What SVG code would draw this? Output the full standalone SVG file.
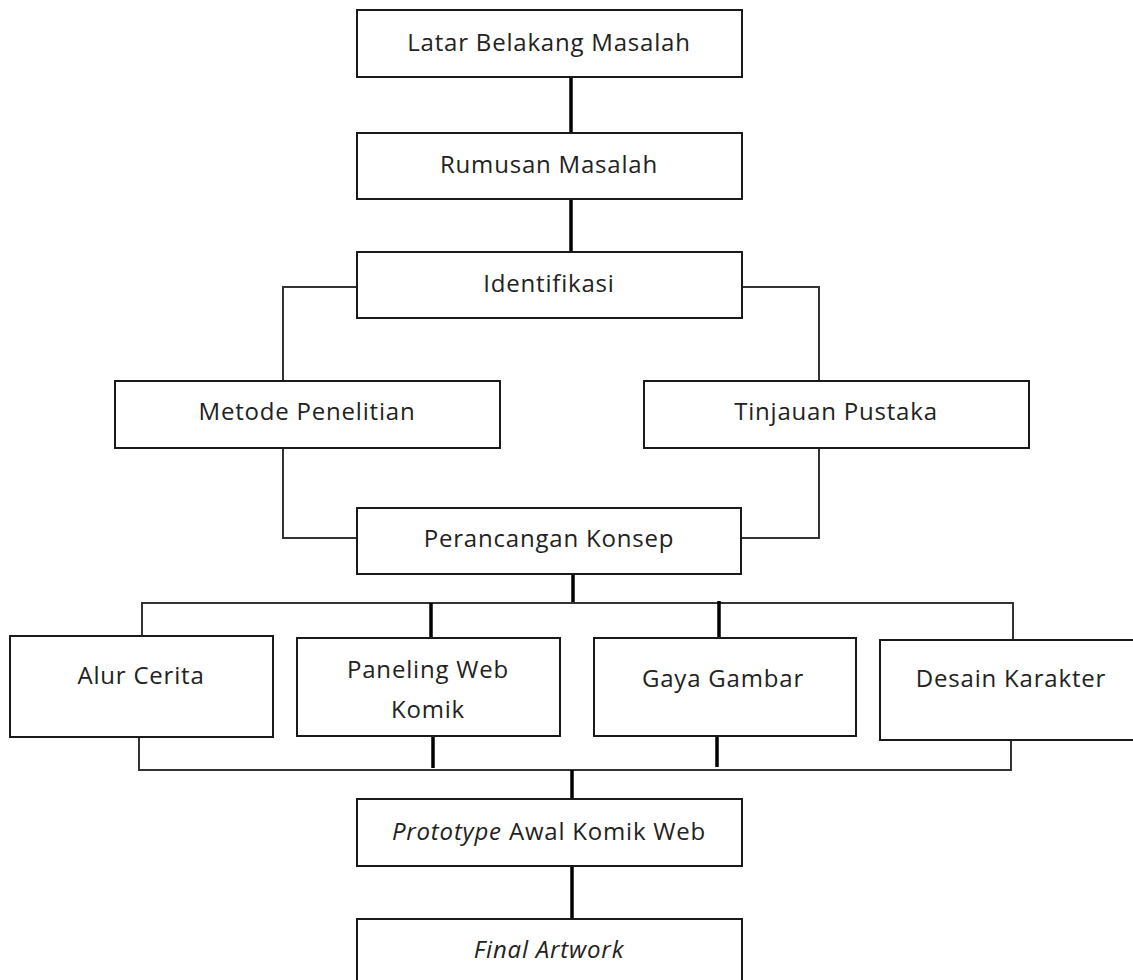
<svg xmlns="http://www.w3.org/2000/svg" width="1133" height="980" viewBox="0 0 1133 980">
<style>
.box{fill:#fff;stroke:#1a1a1a;stroke-width:2}
.lbl{font-family:"Open Sans","Liberation Sans",sans-serif;font-size:24px;letter-spacing:0.8px;fill:#222;text-anchor:middle}
.it{font-style:italic}
.thin{fill:none;stroke:#333;stroke-width:2}
.thick{fill:none;stroke:#000;stroke-width:3.5}
</style>
<rect width="1133" height="980" fill="#fff"/>
<g id="connectors">
<line class="thick" x1="571" y1="72" x2="571" y2="133"/>
<line class="thick" x1="571" y1="197" x2="571" y2="252"/>
<polyline class="thin" points="357,287 283,287 283,381"/>
<polyline class="thin" points="741,287 819,287 819,381"/>
<polyline class="thin" points="283,448 283,538 357,538"/>
<polyline class="thin" points="819,448 819,538 741,538"/>
<line class="thick" x1="573" y1="572" x2="573" y2="603"/>
<polyline class="thin" points="142,636 142,603 1013,603 1013,640"/>
<line class="thick" x1="431" y1="603" x2="431" y2="638"/>
<line class="thick" x1="719" y1="601" x2="719" y2="638"/>
<polyline class="thin" points="139,737 139,770 1011,770 1011,740"/>
<line class="thick" x1="433" y1="734" x2="433" y2="768"/>
<line class="thick" x1="717" y1="733" x2="717" y2="767"/>
<line class="thick" x1="572" y1="770" x2="572" y2="799"/>
<line class="thick" x1="572" y1="866" x2="572" y2="919"/>
</g>
<g id="n1"><rect class="box" x="357" y="10" width="385" height="67"/><text class="lbl" x="549" y="51">Latar Belakang Masalah</text></g>
<g id="n2"><rect class="box" x="357" y="133" width="385" height="66"/><text class="lbl" x="549" y="173">Rumusan Masalah</text></g>
<g id="n3"><rect class="box" x="357" y="252" width="385" height="66"/><text class="lbl" x="549" y="292">Identifikasi</text></g>
<g id="n4"><rect class="box" x="115" y="381" width="385" height="67"/><text class="lbl" x="307" y="420">Metode Penelitian</text></g>
<g id="n5"><rect class="box" x="644" y="381" width="385" height="67"/><text class="lbl" x="836" y="420">Tinjauan Pustaka</text></g>
<g id="n6"><rect class="box" x="357" y="508" width="384" height="66"/><text class="lbl" x="549" y="547">Perancangan Konsep</text></g>
<g id="n7"><rect class="box" x="10" y="636" width="263" height="101"/><text class="lbl" x="141" y="684">Alur Cerita</text></g>
<g id="n8"><rect class="box" x="297" y="638" width="263" height="98"/><text class="lbl" x="428" y="678">Paneling Web</text><text class="lbl" x="428" y="718">Komik</text></g>
<g id="n9"><rect class="box" x="594" y="638" width="262" height="98"/><text class="lbl" x="723" y="687">Gaya Gambar</text></g>
<g id="n10"><rect class="box" x="880" y="640" width="262" height="100"/><text class="lbl" x="1011" y="687">Desain Karakter</text></g>
<g id="n11"><rect class="box" x="357" y="799" width="385" height="67"/><text class="lbl" x="549" y="840"><tspan class="it">Prototype</tspan> Awal Komik Web</text></g>
<g id="n12"><rect class="box" x="357" y="919" width="385" height="80"/><text class="lbl it" x="549" y="958">Final Artwork</text></g>
</svg>
